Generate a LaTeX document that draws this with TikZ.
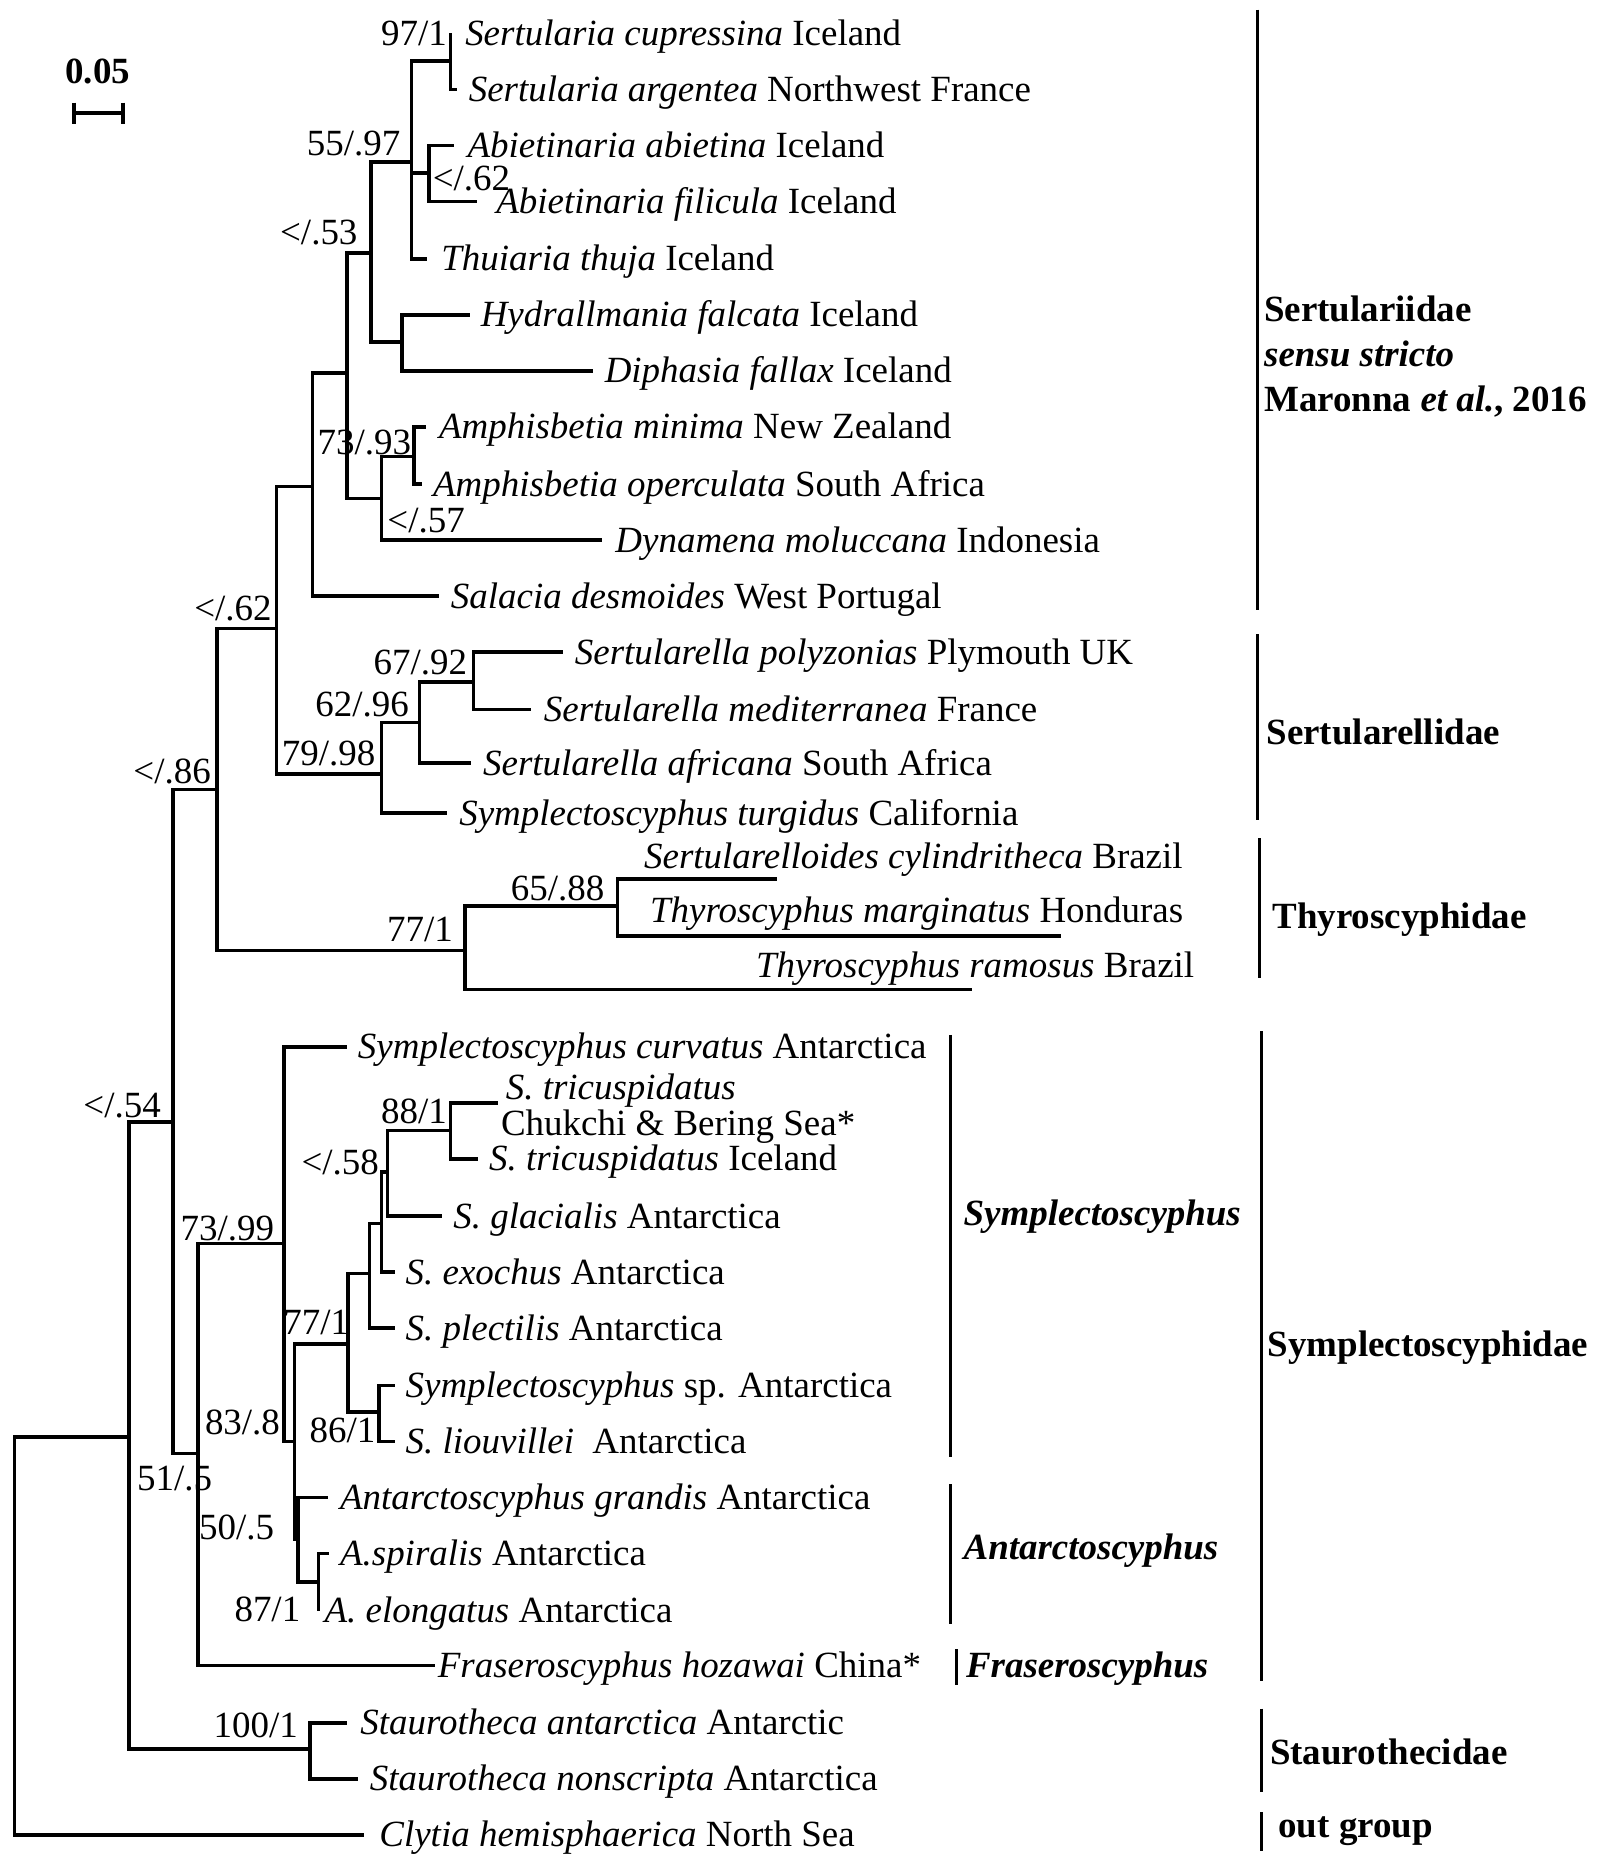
\documentclass[tikz,border=0pt]{standalone}
\usepackage{fontspec}
\setmainfont{Liberation Serif}

\begin{document}
\begin{tikzpicture}[x=1pt, y=-1pt,
    br/.style={line width=3pt},
    bar/.style={line width=2.6pt},
    tip/.style={anchor=base west, inner sep=0pt},
    sup/.style={anchor=base east, inner sep=0pt},
    grp/.style={anchor=base west, inner sep=0pt, font=\bfseries}]

  \fontsize{31}{37.5}\selectfont
  \useasboundingbox (0,0) rectangle (1350,1565);

  %% scale bar
  \node[inner sep=0pt, font=\bfseries] (scale) at (82,60) {0.05};
  \draw[br] (62,86) -- (62,104) (62,95) -- (103,95) (103,86) -- (103,104);

  %% branch ends
  \coordinate (cupr) at (378,28);   \coordinate (arge) at (383,75);
  \coordinate (abie) at (381,122);  \coordinate (fili) at (400,169);
  \coordinate (thuj) at (358,217);  \coordinate (hydr) at (394,264);
  \coordinate (diph) at (497,311);  \coordinate (mini) at (357,358);
  \coordinate (oper) at (354,406);  \coordinate (dyna) at (505,453);
  \coordinate (sala) at (368,500);  \coordinate (poly) at (472,547);
  \coordinate (medi) at (445,595);  \coordinate (afri) at (395,640);
  \coordinate (turg) at (375,682);  \coordinate (cyli) at (652,737);
  \coordinate (marg) at (890,785);  \coordinate (ramo) at (815,830);
  \coordinate (curv) at (291,878);  \coordinate (trcb) at (418,925);
  \coordinate (tric) at (401,972);  \coordinate (glac) at (371,1020);
  \coordinate (exoc) at (331,1067); \coordinate (plec) at (331,1114);
  \coordinate (ssp)  at (331,1162); \coordinate (liou) at (331,1209);
  \coordinate (gran) at (275,1256); \coordinate (spir) at (276,1303);
  \coordinate (elon) at (267,1351); \coordinate (hoza) at (365,1397);
  \coordinate (anta) at (291,1445); \coordinate (nons) at (300,1492);
  \coordinate (clyt) at (305,1539);

  %% inner nodes
  \coordinate (sertu) at (378,51);  \coordinate (abiet) at (360,145);
  \coordinate (sab)   at (345,136); \coordinate (hydi)  at (337,287);
  \coordinate (sabh)  at (311,212); \coordinate (amph)  at (347,383);
  \coordinate (amdy)  at (320,418); \coordinate (upper) at (291,313);
  \coordinate (sertd) at (262,408); \coordinate (spm)   at (397,572);
  \coordinate (spma)  at (352,606); \coordinate (srtl)  at (320,649);
  \coordinate (srt)   at (232,527); \coordinate (thy2)  at (518,760);
  \coordinate (thyr)  at (390,797); \coordinate (strh)  at (182,662);
  \coordinate (tri)   at (378,948); \coordinate (trgl)  at (325,983);
  \coordinate (trex)  at (320,1026); \coordinate (trpl) at (310,1068);
  \coordinate (spli)  at (318,1184); \coordinate (symp) at (292,1127);
  \coordinate (anel)  at (267,1327); \coordinate (antc) at (250,1291);
  \coordinate (syan)  at (247,1209); \coordinate (sycu) at (238,1043);
  \coordinate (symf)  at (166,1219); \coordinate (ingr) at (145,941);
  \coordinate (stau)  at (260,1467); \coordinate (ingr2) at (108,1205);
  \coordinate (root)  at (12,1372);

  %% branches
  \foreach \p/\c in {sertu/cupr, sertu/arge, abiet/abie, abiet/fili,
      sab/sertu, sab/abiet, sab/thuj, hydi/hydr, hydi/diph, sabh/sab, sabh/hydi,
      amph/mini, amph/oper, amdy/amph, amdy/dyna, upper/sabh, upper/amdy,
      sertd/upper, sertd/sala, spm/poly, spm/medi, spma/spm, spma/afri,
      srtl/spma, srtl/turg, srt/sertd, srt/srtl, thy2/cyli, thy2/marg,
      thyr/thy2, thyr/ramo, strh/srt, strh/thyr, tri/trcb, tri/tric,
      trgl/tri, trgl/glac, trex/trgl, trex/exoc, trpl/trex, trpl/plec,
      spli/ssp, spli/liou, symp/trpl, symp/spli, anel/spir, anel/elon,
      antc/gran, antc/anel, syan/symp, syan/antc, sycu/curv, sycu/syan,
      symf/sycu, symf/hoza, ingr/strh, ingr/symf, stau/anta, stau/nons,
      ingr2/ingr, ingr2/stau, root/ingr2, root/clyt}
    \draw[br] (\p) |- (\c);

  %% taxa
  \node[tip] (Lcupr) at (390,38)  {\textit{Sertularia cupressina} Iceland};
  \node[tip] (Large) at (393,85)  {\textit{Sertularia argentea} Northwest France};
  \node[tip] (Labie) at (392,132) {\textit{Abietinaria abietina} Iceland};
  \node[tip] (Lfili) at (416,179) {\textit{Abietinaria filicula} Iceland};
  \node[tip] (Lthuj) at (370,227) {\textit{Thuiaria thuja} Iceland};
  \node[tip] (Lhydr) at (403,274) {\textit{Hydrallmania falcata} Iceland};
  \node[tip] (Ldiph) at (507,321) {\textit{Diphasia fallax} Iceland};
  \node[tip] (Lmini) at (368,368) {\textit{Amphisbetia minima} New Zealand};
  \node[tip] (Loper) at (363,416) {\textit{Amphisbetia operculata} South Africa};
  \node[tip] (Ldyna) at (516,463) {\textit{Dynamena moluccana} Indonesia};
  \node[tip] (Lsala) at (378,510) {\textit{Salacia desmoides} West Portugal};
  \node[tip] (Lpoly) at (482,557) {\textit{Sertularella polyzonias} Plymouth UK};
  \node[tip] (Lmedi) at (456,605) {\textit{Sertularella mediterranea} France};
  \node[tip] (Lafri) at (405,650) {\textit{Sertularella africana} South Africa};
  \node[tip] (Lturg) at (385,692) {\textit{Symplectoscyphus turgidus} California};
  \node[tip] (Lcyli) at (540,728) {\textit{Sertularelloides cylindritheca} Brazil};
  \node[tip] (Lmarg) at (545,774) {\textit{Thyroscyphus marginatus} Honduras};
  \node[tip] (Lramo) at (634,820) {\textit{Thyroscyphus ramosus} Brazil};
  \node[tip] (Lcurv) at (300,888) {\textit{Symplectoscyphus curvatus} Antarctica};
  \node[tip] (Ltrca) at (424,922) {\textit{S. tricuspidatus}};
  \node[tip] (Ltrcb) at (420,952) {Chukchi \& Bering Sea*};
  \node[tip] (Ltric) at (410,982) {\textit{S. tricuspidatus} Iceland};
  \node[tip] (Lglac) at (380,1030) {\textit{S. glacialis} Antarctica};
  \node[tip] (Lexoc) at (340,1077) {\textit{S. exochus} Antarctica};
  \node[tip] (Lplec) at (340,1124) {\textit{S. plectilis} Antarctica};
  \node[tip] (Lssp)  at (340,1172) {\textit{Symplectoscyphus} sp. Antarctica};
  \node[tip] (Lliou) at (340,1219) {\textit{S. liouvillei}\ \ Antarctica};
  \node[tip] (Lgran) at (285,1266) {\textit{Antarctoscyphus grandis} Antarctica};
  \node[tip] (Lspir) at (285,1313) {\textit{A.spiralis} Antarctica};
  \node[tip] (Lelon) at (272,1361) {\textit{A. elongatus} Antarctica};
  \node[tip] (Lhoza) at (367,1407) {\textit{Fraseroscyphus hozawai} China*};
  \node[tip] (Lanta) at (302,1455) {\textit{Staurotheca antarctica} Antarctic};
  \node[tip] (Lnons) at (310,1502) {\textit{Staurotheca nonscripta} Antarctica};
  \node[tip] (Lclyt) at (318,1549) {\textit{Clytia hemisphaerica} North Sea};

  %% support values
  \node[sup] (Ssertu) at (375,38)   {97/1};
  \node[sup] (Ssab)   at (336,130)  {55/.97};
  \node[sup] (Sabiet) at (428,160)  {</.62};
  \node[sup] (Ssabh)  at (300,205)  {</.53};
  \node[sup] (Samph)  at (345,381)  {73/.93};
  \node[sup] (Samdy)  at (390,447)  {</.57};
  \node[sup] (Ssrt)   at (228,520)  {</.62};
  \node[sup] (Sspm)   at (392,566)  {67/.92};
  \node[sup] (Sspma)  at (343,601)  {62/.96};
  \node[sup] (Ssrtl)  at (315,642)  {79/.98};
  \node[sup] (Sstrh)  at (177,657)  {</.86};
  \node[sup] (Sthy2)  at (507,755)  {65/.88};
  \node[sup] (Sthyr)  at (380,790)  {77/1};
  \node[sup] (Singr)  at (135,937)  {</.54};
  \node[sup] (Stri)   at (375,942)  {88/1};
  \node[sup] (Strgl)  at (318,985)  {</.58};
  \node[sup] (Ssycu)  at (230,1040) {73/.99};
  \node[sup] (Ssymp)  at (293,1119) {77/1};
  \node[sup] (Ssyan)  at (235,1203) {83/.8};
  \node[sup] (Sspli)  at (315,1210) {86/1};
  \node[sup] (Ssymf)  at (178,1250) {51/.5};
  \node[sup] (Santc)  at (230,1291) {50/.5};
  \node[sup] (Sanel)  at (252,1360) {87/1};
  \node[sup] (Sstau)  at (250,1457) {100/1};

  %% groups
  \draw[bar] (1055,8) -- (1055,512);
  \node[grp] (Gsert) at (1060,270) {Sertulariidae};
  \node[grp] (Gsens) at (1060,307) {\textit{sensu stricto}};
  \node[grp] (Gmaro) at (1060,345) {Maronna \textit{et al.}, 2016};
  \draw[bar] (1055,532) -- (1055,688);
  \node[grp] (Gsrtl) at (1062,624) {Sertularellidae};
  \draw[bar] (1056,703) -- (1056,820);
  \node[grp] (Gthyr) at (1067,779) {Thyroscyphidae};
  \draw[bar] (797,868) -- (797,1222);
  \node[grp] (Gsymp) at (808,1028) {\textit{Symplectoscyphus}};
  \draw[bar] (797,1245) -- (797,1362);
  \node[grp] (Gantc) at (808,1308) {\textit{Antarctoscyphus}};
  \draw[bar] (802,1383) -- (802,1413);
  \node[grp] (Gfras) at (810,1407) {\textit{Fraseroscyphus}};
  \draw[bar] (1058,865) -- (1058,1410);
  \node[grp] (Gsyph) at (1063,1138) {Symplectoscyphidae};
  \draw[bar] (1058,1433) -- (1058,1503);
  \node[grp] (Gstau) at (1065,1480) {Staurothecidae};
  \draw[bar] (1058,1520) -- (1058,1552);
  \node[grp] (Gout)  at (1072,1541) {out group};
\end{tikzpicture}
\end{document}
